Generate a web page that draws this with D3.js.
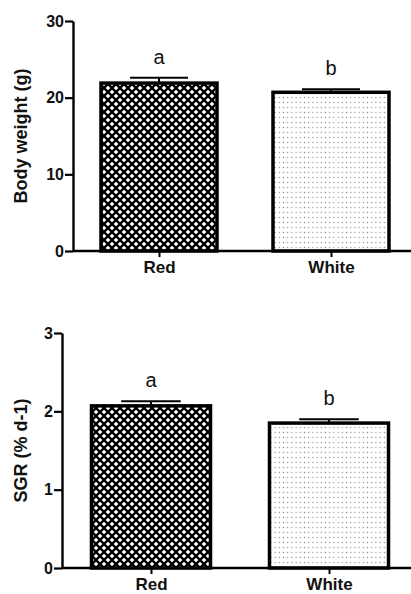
<!DOCTYPE html>
<html>
<head>
<meta charset="utf-8">
<script src="https://cdn.jsdelivr.net/npm/d3@7"></script>
<style>
  html, body { margin: 0; padding: 0; background: #fff; }
  svg { display: block; font-family: "Liberation Sans", Arial, Helvetica, sans-serif; }
</style>
</head>
<body>
<svg id="chart" width="411" height="594"></svg>
<script>
// Groups and measured values
const categories = ["Red", "White"];
const bodyWeight = [21.9, 20.7];
const bodyWeightErr = [0.7, 0.4];
const sgr = [2.07, 1.85];
const sgrErr = [0.06, 0.05];
const letters = ["a", "b"];
const bodyWeightTicks = [0, 10, 20, 30];
const sgrTicks = [0, 1, 2, 3];

const svg = d3.select("#chart");
const W = 411;

// Fill patterns: crosshatch for Red, stippled dots for White
const defs = svg.append("defs");
const hs = 8;
const hatch = defs.append("pattern")
  .attr("id", "hatch").attr("patternUnits", "userSpaceOnUse")
  .attr("width", hs).attr("height", hs);
hatch.append("rect").attr("width", hs).attr("height", hs).attr("fill", "#fff");
[[-hs / 2, -hs / 2, hs * 1.5, hs * 1.5], [hs * 1.5, -hs / 2, -hs / 2, hs * 1.5]]
  .forEach(([x1, y1, x2, y2]) => hatch.append("line")
    .attr("x1", x1).attr("y1", y1).attr("x2", x2).attr("y2", y2)
    .attr("stroke", "#000").attr("stroke-width", 2.3));

const dots = defs.append("pattern")
  .attr("id", "dots").attr("patternUnits", "userSpaceOnUse")
  .attr("width", 4.2).attr("height", 5);
dots.append("rect").attr("width", 4.2).attr("height", 5).attr("fill", "#fff");
dots.append("circle").attr("cx", 2.1).attr("cy", 2.5).attr("r", 0.65).attr("fill", "#8a8a8a");

const fills = ["url(#hatch)", "url(#dots)"];

function panel(cfg) {
  const g = svg.append("g");
  const y = d3.scaleLinear().domain([0, cfg.max]).range([cfg.y0, cfg.y1]);
  const x = d3.scalePoint().domain(categories).range([cfg.x0, cfg.x0 + cfg.span]).padding(0.5);
  const bw = cfg.barW;

  // Bars
  g.selectAll("rect.bar").data(categories).join("rect")
    .attr("class", "bar")
    .attr("x", d => x(d) - bw / 2)
    .attr("width", bw)
    .attr("y", (d, i) => y(cfg.values[i]))
    .attr("height", (d, i) => y(0) - y(cfg.values[i]))
    .attr("fill", (d, i) => fills[i])
    .attr("stroke", "#000").attr("stroke-width", 3.5);

  // Error bars (upper only)
  const eb = g.selectAll("g.err").data(categories).join("g").attr("class", "err");
  eb.append("line")
    .attr("x1", d => x(d)).attr("x2", d => x(d))
    .attr("y1", (d, i) => y(cfg.values[i]))
    .attr("y2", (d, i) => y(cfg.values[i] + cfg.errs[i]))
    .attr("stroke", "#000").attr("stroke-width", 2);
  eb.append("line")
    .attr("x1", d => x(d) - bw / 4).attr("x2", d => x(d) + bw / 4)
    .attr("y1", (d, i) => y(cfg.values[i] + cfg.errs[i]))
    .attr("y2", (d, i) => y(cfg.values[i] + cfg.errs[i]))
    .attr("stroke", "#000").attr("stroke-width", 2);

  // Significance letters
  g.selectAll("text.sig").data(categories).join("text")
    .attr("class", "sig")
    .attr("x", d => x(d))
    .attr("y", (d, i) => y(cfg.values[i] + cfg.errs[i]) - 14)
    .attr("text-anchor", "middle")
    .attr("font-size", 20)
    .attr("fill", "#111")
    .text((d, i) => letters[i]);

  // Y axis
  const ya = g.append("g").attr("transform", `translate(${cfg.x0},0)`)
    .call(d3.axisLeft(y).tickValues(cfg.ticks).tickFormat(d3.format("d"))
      .tickSize(8).tickSizeOuter(0).tickPadding(1));
  ya.select(".domain").attr("stroke-width", 2.4);
  ya.selectAll(".tick line").attr("stroke-width", 2.2);
  ya.selectAll(".tick text").attr("font-size", 16).attr("font-weight", "bold").attr("fill", "#111");

  // X axis
  const xa = g.append("g").attr("transform", `translate(0,${cfg.y0})`)
    .call(d3.axisBottom(x).tickSize(6).tickSizeOuter(0).tickPadding(4));
  xa.select(".domain").attr("d", `M${cfg.x0},0H${W}`).attr("stroke-width", 2.4);
  xa.selectAll(".tick line").attr("stroke-width", 2);
  xa.selectAll(".tick text").attr("font-size", 17).attr("font-weight", "bold").attr("fill", "#111");

  // Y axis title
  g.append("text")
    .attr("transform", `translate(${cfg.labelX},${(cfg.y0 + cfg.y1) / 2}) rotate(-90)`)
    .attr("text-anchor", "middle")
    .attr("dy", "0.35em")
    .attr("font-size", 18).attr("font-weight", "bold").attr("fill", "#111")
    .text(cfg.title);
}

panel({
  values: bodyWeight, errs: bodyWeightErr, ticks: bodyWeightTicks, max: 30,
  x0: 73, span: 344, y0: 251, y1: 21, barW: 116, labelX: 21,
  title: "Body weight (g)"
});

panel({
  values: sgr, errs: sgrErr, ticks: sgrTicks, max: 3,
  x0: 62, span: 356, y0: 568, y1: 333, barW: 119, labelX: 21,
  title: "SGR (% d-1)"
});
</script>
</body>
</html>
